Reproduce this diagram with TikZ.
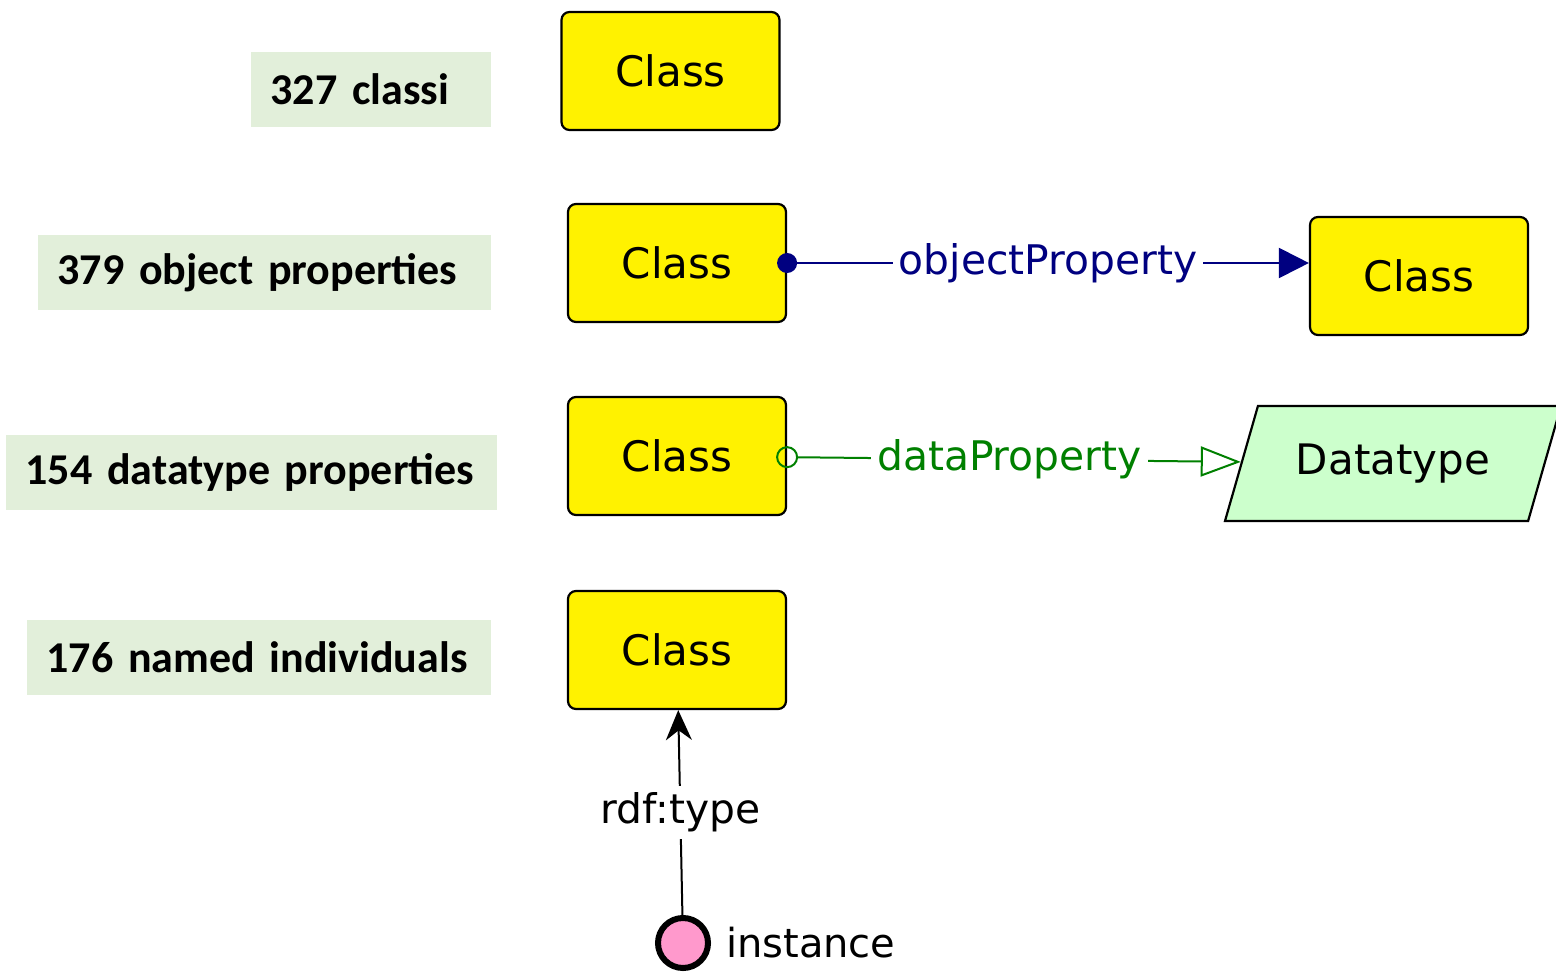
\documentclass[tikz,border=0pt]{standalone}
\usepackage{fontspec}
\setmainfont{DejaVu Sans}
\newfontfamily\calibri{Carlito}
\usetikzlibrary{arrows.meta, shapes.geometric}
\tikzset{>=stealth}
\definecolor{lblgreen}{HTML}{E2EFDA}
\definecolor{dtgreen}{HTML}{CCFFCC}
\definecolor{objblue}{HTML}{000080}
\definecolor{datgreen}{HTML}{008000}
\definecolor{instpink}{HTML}{FF99CC}
\tikzset{
  countbox/.style={fill=lblgreen, anchor=east, align=left, text width=#1,
    inner xsep=10pt, minimum height=37.5pt,
    font=\calibri\bfseries\fontsize{22}{26}\selectfont},
  classbox/.style={draw, line width=1.1pt, fill=yellow, rounded corners=4pt,
    minimum width=109pt, minimum height=59pt, font=\fontsize{21}{25}\selectfont},
  edgelbl/.style={fill=white, inner xsep=3pt, font=\fontsize{20.4}{24}\selectfont},
}
\begin{document}
\begin{tikzpicture}[x=0.5pt, y=-0.5pt]
    \useasboundingbox (0,0) rectangle (1556,973);
    % counts on the left
    \node[countbox=100pt] (nclass) at (491,89.5) {\mbox{327 classi}};
    \node[countbox=206.5pt] (nobj) at (491,272.5) {\mbox{379 object properties}};
    \node[countbox=225.5pt] (ndata) at (497,472.5) {\mbox{154 datatype properties}};
    \node[countbox=212pt] (nind) at (491,657.5) {\mbox{176 named individuals}};
    % classes
    \node[classbox] (c1) at (670.5,71) {Class};
    \node[classbox] (c2) at (677,263) {Class};
    \node[classbox] (c3) at (677,456) {Class};
    \node[classbox] (c4) at (677,650) {Class};
    \node[classbox] (c5) at (1419,276) {Class};
    \node[trapezium, draw, line width=1.1pt, fill=dtgreen,
      trapezium left angle=58, trapezium right angle=122, trapezium stretches body=true,
      minimum width=168pt, minimum height=57.5pt, font=\fontsize{21}{25}\selectfont]
      (dt) at (1393,463.5) {Datatype};
    \node[circle, draw, line width=3pt, fill=instpink, minimum size=25pt, inner sep=0pt,
      label={[font=\fontsize{20}{24}\selectfont, label distance=4pt]right:instance}]
      (inst) at (683,943) {};
    % properties
    \draw[objblue, line width=1pt, {Circle[length=10pt]}-{Triangle[length=15pt, width=15pt]},
      shorten <=-5pt] (c2.east) -- (c2.east -| c5.west)
      node[edgelbl, midway, text=objblue] {objectProperty};
    \draw[datgreen, line width=1pt, {Circle[open, length=11pt]}-{Triangle[open, length=20pt, width=15pt]},
      shorten <=-5.5pt] (c3) -- (dt)
      node[edgelbl, pos=0.49, text=datgreen] {dataProperty};
    \draw[line width=1pt, -{Stealth[length=15pt, width=13pt]}] (inst) -- (c4)
      node[edgelbl, midway] {rdf:type};
\end{tikzpicture}
\end{document}
